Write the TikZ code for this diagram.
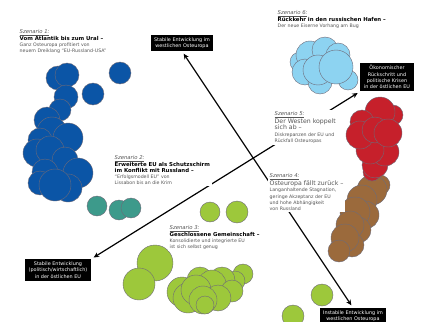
\documentclass[tikz,border=0pt]{standalone}
\usepackage{fontspec}
\setmainfont{DejaVu Sans}
\usepackage{tikz}
\usetikzlibrary{arrows.meta}

\definecolor{cBlau}{HTML}{0B55A6}
\definecolor{cHell}{HTML}{8DD3F1}
\definecolor{cRot}{HTML}{C6202B}
\definecolor{cBraun}{HTML}{9B6A3C}
\definecolor{cTuerkis}{HTML}{3D9A8B}
\definecolor{cGruen}{HTML}{9DC83B}
\definecolor{cRand}{HTML}{6E6A78}
\definecolor{cText}{HTML}{555555}

\tikzset{
    kreis/.style={draw=cRand, line width=0.4pt},
    kblau/.style={kreis, fill=cBlau},
    khell/.style={kreis, fill=cHell},
    krot/.style={kreis, fill=cRot},
    kbraun/.style={kreis, fill=cBraun},
    ktuerkis/.style={kreis, fill=cTuerkis},
    kgruen/.style={kreis, fill=cGruen},
    szen/.style={anchor=north west, align=left, fill=white, inner sep=1.5pt,
        text=cText, font=\fontsize{4.7}{6.3}\selectfont},
    endbox/.style={fill=black, text=white, align=center, inner xsep=3.5pt,
        inner ysep=2.5pt, font=\fontsize{4.9}{6.3}\selectfont},
    pfeil/.style={line width=1.2pt, {Stealth[length=5.5pt,width=5pt]}-{Stealth[length=5.5pt,width=5pt]},
        shorten <=3pt, shorten >=3pt}
}

\newcommand{\szname}[1]{{\fontsize{5.3}{7.8}\selectfont\color{cText}\underline{\textit{#1}}}}
\newcommand{\sztitel}[1]{{\fontsize{5.4}{7.8}\selectfont\bfseries\color{black}#1}}
\newcommand{\szgross}[1]{{\fontsize{6.2}{8}\selectfont\color{cText}#1}}

\begin{document}
\begin{tikzpicture}[x=1pt,y=-1pt]

    \useasboundingbox (0,0) rectangle (425,321);

    \draw[kblau] (120,73) circle [radius=11pt];
    \draw[kblau] (93,94) circle [radius=11pt];
    \draw[kblau] (58,78) circle [radius=12pt];
    \draw[kblau] (67,75) circle [radius=12pt];
    \draw[kblau] (66,97) circle [radius=12pt];
    \draw[kblau] (60,110) circle [radius=11pt];
    \draw[kblau] (47,120) circle [radius=13pt];
    \draw[kblau] (52,132) circle [radius=15pt];
    \draw[kblau] (68,138) circle [radius=15pt];
    \draw[kblau] (40,140) circle [radius=12pt];
    \draw[kblau] (37,153) circle [radius=14pt];
    \draw[kblau] (50,150) circle [radius=14pt];
    \draw[kblau] (65,160) circle [radius=13pt];
    \draw[kblau] (78,173) circle [radius=15pt];
    \draw[kblau] (45,172) circle [radius=13pt];
    \draw[kblau] (40,183) circle [radius=12pt];
    \draw[kblau] (68,188) circle [radius=14pt];
    \draw[kblau] (55,185) circle [radius=16pt];

    \draw[khell] (300,62) circle [radius=10pt];
    \draw[khell] (310,55) circle [radius=14pt];
    \draw[khell] (325,50) circle [radius=13pt];
    \draw[khell] (338,55) circle [radius=12pt];
    \draw[khell] (305,72) circle [radius=13pt];
    \draw[khell] (348,80) circle [radius=10pt];
    \draw[khell] (320,82) circle [radius=12pt];
    \draw[khell] (318,70) circle [radius=15pt];
    \draw[khell] (336,67) circle [radius=17pt];

    \draw[kbraun] (380,185) circle [radius=10pt];
    \draw[kbraun] (372,190) circle [radius=15pt];
    \draw[kbraun] (362,200) circle [radius=15pt];
    \draw[kbraun] (365,215) circle [radius=14pt];
    \draw[kbraun] (355,212) circle [radius=15pt];
    \draw[kbraun] (358,230) circle [radius=13pt];
    \draw[kbraun] (350,225) circle [radius=14pt];
    \draw[kbraun] (352,245) circle [radius=12pt];
    \draw[kbraun] (345,238) circle [radius=14pt];
    \draw[kbraun] (339,251) circle [radius=11pt];

    \draw[krot] (372,172) circle [radius=9pt];
    \draw[krot] (375,165) circle [radius=13pt];
    \draw[krot] (385,152) circle [radius=14pt];
    \draw[krot] (370,150) circle [radius=14pt];
    \draw[krot] (393,115) circle [radius=10pt];
    \draw[krot] (380,112) circle [radius=15pt];
    \draw[krot] (362,122) circle [radius=12pt];
    \draw[krot] (360,135) circle [radius=14pt];
    \draw[krot] (375,130) circle [radius=13pt];
    \draw[krot] (388,133) circle [radius=14pt];

    \draw[ktuerkis] (97,206) circle [radius=10pt];
    \draw[ktuerkis] (119,210) circle [radius=10pt];
    \draw[ktuerkis] (131,208) circle [radius=10pt];

    \draw[kgruen] (210,212) circle [radius=10pt];
    \draw[kgruen] (237,212) circle [radius=11pt];
    \draw[kgruen] (322,295) circle [radius=11pt];
    \draw[kgruen] (293,316) circle [radius=11pt];
    \draw[kgruen] (155,263) circle [radius=18pt];
    \draw[kgruen] (139,284) circle [radius=16pt];
    \draw[kgruen] (243,274) circle [radius=10pt];
    \draw[kgruen] (235,281) circle [radius=10pt];
    \draw[kgruen] (222,280) circle [radius=13pt];
    \draw[kgruen] (200,280) circle [radius=13pt];
    \draw[kgruen] (212,284) circle [radius=14pt];
    \draw[kgruen] (232,291) circle [radius=11pt];
    \draw[kgruen] (182,292) circle [radius=15pt];
    \draw[kgruen] (188,298) circle [radius=15pt];
    \draw[kgruen] (196,290) circle [radius=15pt];
    \draw[kgruen] (218,298) circle [radius=13pt];
    \draw[kgruen] (203,300) circle [radius=14pt];
    \draw[kgruen] (205,305) circle [radius=9pt];

    \node[endbox] (boxWest) at (182,43) {Stabile Entwicklung im\\westlichen Osteuropa};
    \node[endbox] (boxKrise) at (387,77) {Ökonomischer\\Rückschritt und\\politische Krisen\\in der östlichen EU};
    \node[endbox] (boxOst) at (58,270) {Stabile Entwicklung\\(politisch/wirtschaftlich)\\in der östlichen EU};
    \node[endbox] (boxInstabil) at (353,316) {Instabile Entwicklung im\\westlichen Osteuropa};

    \draw[pfeil] (boxWest.south) -- (boxInstabil.north);
    \draw[pfeil] (boxOst.north east) -- (boxKrise.south west);

    \node[szen] (sz1) at (18,28) {\szname{Szenario 1:}\\
        \sztitel{Vom Atlantik bis zum Ural –}\\
        Ganz Osteuropa profitiert von\\
        neuem Dreiklang “EU-Russland-USA”};
    \node[szen] (sz6) at (276,9) {\szname{Szenario 6:}\\
        \sztitel{Rückkehr in den russischen Hafen –}\\
        Der neue Eiserne Vorhang am Bug};
    \node[szen] (sz5) at (273,110) {\szname{Szenario 5:}\\
        \szgross{Der Westen koppelt}\\
        \szgross{sich ab –}\\
        Diskrepanzen der EU und\\
        Rückfall Osteuropas};
    \node[szen] (sz4) at (268,172) {\szname{Szenario 4:}\\
        \szgross{Osteuropa fällt zurück –}\\
        Langanhaltende Stagnation,\\
        geringe Akzeptanz der EU\\
        und hohe Abhängigkeit\\
        von Russland};
    \node[szen] (sz2) at (113,154) {\szname{Szenario 2:}\\
        \sztitel{Erweiterte EU als Schutzschirm}\\
        \sztitel{im Konflikt mit Russland –}\\
        “Erfolgsmodell EU” von\\
        Lissabon bis an die Krim};
    \node[szen] (sz3) at (168,224) {\szname{Szenario 3:}\\
        \sztitel{Geschlossene Gemeinschaft –}\\
        Konsolidierte und integrierte EU\\
        ist sich selbst genug};

\end{tikzpicture}
\end{document}
